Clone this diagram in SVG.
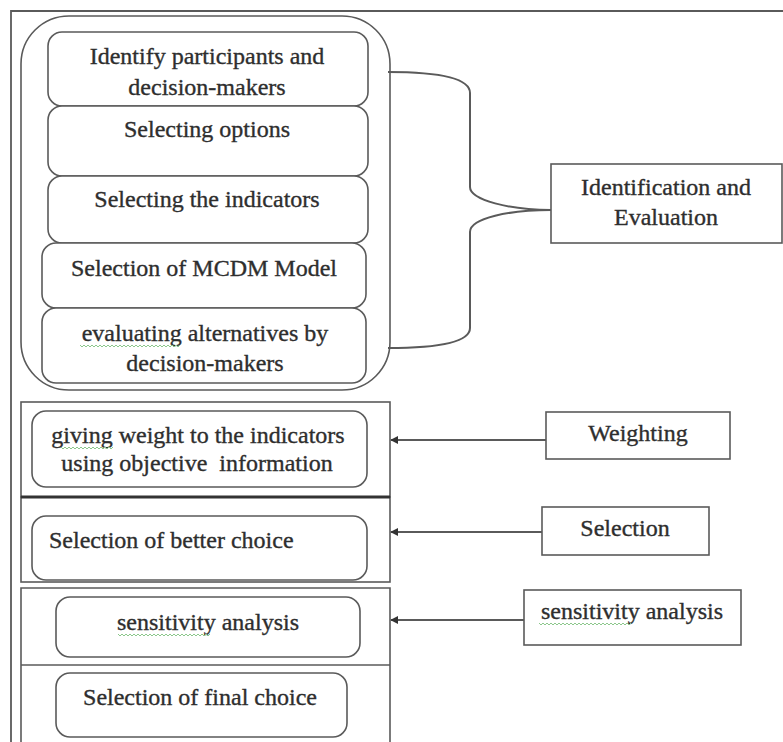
<svg xmlns="http://www.w3.org/2000/svg" width="783" height="742" viewBox="0 0 783 742">
<style>
text{font-family:"Liberation Serif","Times New Roman",serif;font-size:24px;fill:#2e2e2e;stroke:#2e2e2e;stroke-width:0.35;}
.c{text-anchor:middle;}
.box{fill:#fff;stroke:#5a5a5a;stroke-width:1.6;}
.frame{fill:none;stroke:#5a5a5a;stroke-width:1.8;}
.conn{fill:none;stroke:#5a5a5a;stroke-width:2;}
.wavy{fill:none;stroke:#8cc78c;stroke-width:1;}
</style>
<defs>
<marker id="ah" viewBox="0 0 10 10" refX="9" refY="5" markerWidth="4" markerHeight="4" orient="auto-start-reverse">
<path d="M0,0 L10,5 L0,10 z" fill="#333"/>
</marker>
</defs>
<rect width="783" height="742" fill="#fff"/>
<g id="frame">
<path class="frame" d="M11,742 L11,11 L783,11"/>
</g>
<g id="phase1">
<rect class="box" x="21" y="16" width="369" height="374" rx="48"/>
<g id="n1"><rect class="box" x="48" y="32" width="320" height="74" rx="14"/>
<text class="c" x="207" y="64">Identify participants and</text>
<text class="c" x="207" y="95">decision-makers</text></g>
<g id="n2"><rect class="box" x="48" y="106" width="320" height="70" rx="14"/>
<text class="c" x="207" y="137">Selecting options</text></g>
<g id="n3"><rect class="box" x="48" y="176" width="320" height="67" rx="14"/>
<text class="c" x="207" y="207">Selecting the indicators</text></g>
<g id="n4"><rect class="box" x="42" y="243" width="324" height="65" rx="14"/>
<text class="c" x="204" y="276">Selection of MCDM Model</text></g>
<g id="n5"><rect class="box" x="42" y="308" width="324" height="75" rx="14"/>
<text class="c" x="205" y="341">evaluating alternatives by</text>
<text class="c" x="205" y="371">decision-makers</text>
<path class="wavy" d="M80,345 l2,2 l2,-2 l2,2 l2,-2 l2,2 l2,-2 l2,2 l2,-2 l2,2 l2,-2 l2,2 l2,-2 l2,2 l2,-2 l2,2 l2,-2 l2,2 l2,-2 l2,2 l2,-2 l2,2 l2,-2 l2,2 l2,-2 l2,2 l2,-2 l2,2 l2,-2 l2,2 l2,-2 l2,2 l2,-2 l2,2 l2,-2 l2,2 l2,-2 l2,2 l2,-2 l2,2 l2,-2 l2,2 l2,-2 l2,2 l2,-2 l2,2 l2,-2 l2,2 l2,-2 l2,2 l2,-2"/></g>
</g>
<g id="phase2">
<rect class="box" x="21" y="402" width="369" height="95"/>
<g id="n6"><rect class="box" x="32" y="411" width="335" height="76" rx="14"/>
<text class="c" x="198" y="443">giving weight to the indicators</text>
<text class="c" x="197" y="471" xml:space="preserve">using objective  information</text>
<path class="wavy" d="M61,447 l2,2 l2,-2 l2,2 l2,-2 l2,2 l2,-2 l2,2 l2,-2 l2,2 l2,-2 l2,2 l2,-2 l2,2 l2,-2 l2,2 l2,-2 l2,2 l2,-2 l2,2 l2,-2 l2,2 l2,-2 l2,2 l2,-2 l2,2 l2,-2"/></g>
</g>
<g id="phase3">
<rect class="box" x="21" y="497" width="369" height="85"/>
<line x1="21" y1="497" x2="390" y2="497" stroke="#333" stroke-width="3"/>
<g id="n7"><rect class="box" x="32" y="516" width="335" height="64" rx="14"/>
<text x="49" y="548">Selection of better choice</text></g>
</g>
<g id="phase4">
<path class="box" d="M21,742 L21,588 L390,588 L390,742"/>
<line x1="21" y1="665" x2="390" y2="665" stroke="#5a5a5a" stroke-width="1.6"/>
<g id="n8"><rect class="box" x="56" y="597" width="304" height="60" rx="14"/>
<text class="c" x="208" y="630">sensitivity analysis</text>
<path class="wavy" d="M118,634 l2,2 l2,-2 l2,2 l2,-2 l2,2 l2,-2 l2,2 l2,-2 l2,2 l2,-2 l2,2 l2,-2 l2,2 l2,-2 l2,2 l2,-2 l2,2 l2,-2 l2,2 l2,-2 l2,2 l2,-2 l2,2 l2,-2 l2,2 l2,-2 l2,2 l2,-2 l2,2 l2,-2 l2,2 l2,-2 l2,2 l2,-2 l2,2 l2,-2 l2,2 l2,-2 l2,2 l2,-2 l2,2 l2,-2 l2,2 l2,-2 l2,2 l2,-2"/></g>
<g id="n9"><rect class="box" x="56" y="673" width="291" height="64" rx="14"/>
<text class="c" x="200" y="705">Selection of final choice</text></g>
</g>
<g id="labels">
<g id="l1"><rect class="box" x="551" y="164" width="231" height="79"/>
<text class="c" x="666" y="195">Identification and</text>
<text class="c" x="666" y="225">Evaluation</text></g>
<g id="l2"><rect class="box" x="546" y="412" width="184" height="47"/>
<text class="c" x="638" y="441">Weighting</text></g>
<g id="l3"><rect class="box" x="542" y="507" width="167" height="48"/>
<text class="c" x="625" y="536">Selection</text></g>
<g id="l4"><rect class="box" x="524" y="590" width="217" height="55"/>
<text class="c" x="632" y="619">sensitivity analysis</text>
<path class="wavy" d="M539,623 l2,2 l2,-2 l2,2 l2,-2 l2,2 l2,-2 l2,2 l2,-2 l2,2 l2,-2 l2,2 l2,-2 l2,2 l2,-2 l2,2 l2,-2 l2,2 l2,-2 l2,2 l2,-2 l2,2 l2,-2 l2,2 l2,-2 l2,2 l2,-2 l2,2 l2,-2 l2,2 l2,-2 l2,2 l2,-2 l2,2 l2,-2 l2,2 l2,-2 l2,2 l2,-2 l2,2 l2,-2 l2,2 l2,-2 l2,2 l2,-2 l2,2 l2,-2"/></g>
</g>
<g id="connectors">
<path class="conn" d="M388,72 C440,72 470,78 470,93 L470,187 C470,200 510,210 551,210 M551,210 C510,210 470,218 470,232 L470,328 C470,342 440,348 388,348"/>
<line class="conn" x1="546" y1="440" x2="391" y2="440" marker-end="url(#ah)"/>
<line class="conn" x1="542" y1="532" x2="391" y2="532" marker-end="url(#ah)"/>
<line class="conn" x1="524" y1="620" x2="391" y2="620" marker-end="url(#ah)"/>
</g>
</svg>
